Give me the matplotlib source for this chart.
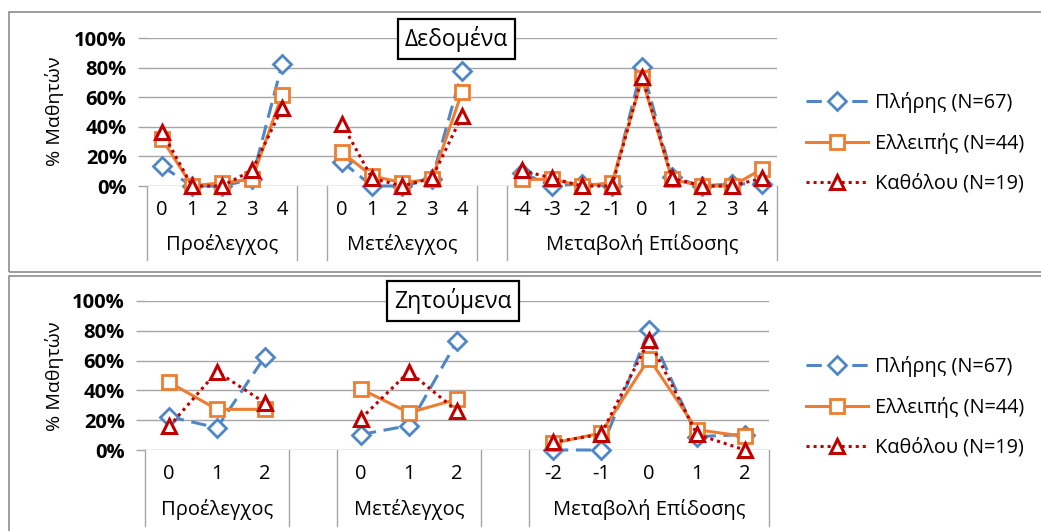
import numpy as np
import matplotlib
matplotlib.use('Agg')
import matplotlib.pyplot as plt
from matplotlib.lines import Line2D
from matplotlib.patches import Rectangle
from matplotlib.transforms import blended_transform_factory

plt.rcParams['font.family'] = ['Open Sans', 'DejaVu Sans']

W, H = 1041, 531

groups = ['Προέλεγχος', 'Μετέλεγχος', 'Μεταβολή Επίδοσης']
series_names = ['Πλήρης (N=67)', 'Ελλειπής (N=44)', 'Καθόλου (N=19)']
y_label = '% Μαθητών'
y_ticks = [0, 20, 40, 60, 80, 100]

# Top panel: Δεδομένα
top_title = 'Δεδομένα'
top_cats = [['0', '1', '2', '3', '4'],
            ['0', '1', '2', '3', '4'],
            ['-4', '-3', '-2', '-1', '0', '1', '2', '3', '4']]
top_full = [[13.4, 0, 0, 4.5, 82.1],
            [16.4, 0, 0, 4.5, 77.6],
            [9.0, 0, 1.5, 0, 80.6, 6.0, 0, 1.5, 1.5]]
top_partial = [[31.8, 0, 2.3, 4.5, 61.4],
               [22.7, 6.8, 2.3, 4.5, 63.6],
               [4.5, 4.5, 0, 2.3, 72.7, 4.5, 0, 0, 11.4]]
top_none = [[36.8, 0, 0, 10.5, 52.6],
            [42.1, 5.3, 0, 5.3, 47.4],
            [10.5, 5.3, 0, 0, 73.7, 5.3, 0, 0, 5.3]]

# Bottom panel: Ζητούμενα
bot_title = 'Ζητούμενα'
bot_cats = [['0', '1', '2'],
            ['0', '1', '2'],
            ['-2', '-1', '0', '1', '2']]
bot_full = [[22.4, 14.9, 62.7],
            [10.4, 16.4, 73.1],
            [0, 0, 80.6, 9.0, 10.4]]
bot_partial = [[45.5, 27.3, 27.3],
               [40.9, 25.0, 34.1],
               [4.5, 11.4, 61.4, 13.6, 9.1]]
bot_none = [[15.8, 52.6, 31.6],
            [21.1, 52.6, 26.3],
            [5.3, 10.5, 73.7, 10.5, 0]]

BLUE = '#4F86C6'
ORANGE = '#ED7D31'
RED = '#C00000'
GRID = '#A6A6A6'

styles = [
    dict(color=BLUE, lw=2.2, dashes=(5, 2.5), marker='D', ms=9, mfc='white', mec=BLUE, mew=2.0),
    dict(color=ORANGE, lw=2.2, linestyle='-', marker='s', ms=10, mfc='white', mec=ORANGE, mew=2.0),
    dict(color=RED, lw=2.2, linestyle=(0, (1, 1.3)), marker='^', ms=10, mfc='white', mec=RED, mew=2.2),
]

fig = plt.figure(figsize=(W / 100, H / 100), dpi=100)


def fx(px):
    return px / W


def fy(py):
    return 1 - py / H


def build(cats, values):
    xs, labels, ys = [], [], []
    pos = 0
    centers = []
    bounds = [-0.5]
    for gi, (c, v) in enumerate(zip(cats, values)):
        start = pos
        for lab, val in zip(c, v):
            xs.append(pos)
            labels.append(lab)
            ys.append(val / 100.0)
            pos += 1
        centers.append((start + pos - 1) / 2)
        bounds.append(pos - 0.5)
        if gi < len(cats) - 1:
            xs.append(pos)
            labels.append('')
            ys.append(np.nan)
            pos += 1
            bounds.append(pos - 0.5)
    return np.array(xs), labels, np.array(ys), centers, bounds, pos


def panel(box, x_left, x_right, y0, y100, cats, series, title, title_c,
          tick_y, group_y, sep_bottom, legend_y, ylab_y):
    n = sum(len(c) for c in cats) + len(cats) - 1
    ax = fig.add_axes([fx(x_left), fy(y0), fx(x_right - x_left), (y0 - y100) / H])
    ax.set_xlim(-0.5, n - 0.5)
    ax.set_ylim(0, 1)
    for s in ax.spines.values():
        s.set_visible(False)
    ax.set_xticks([])
    ax.set_yticks([t / 100 for t in y_ticks])
    ax.set_yticklabels([f'{t}%' for t in y_ticks], fontsize=14.5, fontweight='bold')
    ax.tick_params(axis='y', length=6.5, width=1, color=GRID, pad=8)
    for t in y_ticks:
        ax.axhline(t / 100, color=GRID, lw=1, zorder=0)
    ax.set_facecolor('none')

    tr = blended_transform_factory(ax.transData, fig.transFigure)
    handles = []
    for vals, st, name in zip(series, styles, series_names):
        xs, labels, ys, centers, bounds, _ = build(cats, vals)
        ln, = ax.plot(xs, ys, clip_on=False, zorder=3, label=name, **st)
        handles.append(ln)
    for x, lab in zip(xs, labels):
        if lab:
            ax.text(x, fy(tick_y), lab, transform=tr, ha='center', va='center', fontsize=14.5)
    for c, g in zip(centers, groups):
        ax.text(c, fy(group_y), g, transform=tr, ha='center', va='center', fontsize=14.5)
    for b in bounds:
        fig.add_artist(Line2D([b, b], [fy(y0), fy(sep_bottom)], transform=tr, color=GRID, lw=1))

    fig.text(fx(54), fy(ylab_y), y_label, rotation=90, ha='center', va='center', fontsize=14)
    fig.text(fx(title_c[0]), fy(title_c[1]), title, ha='center', va='center', fontsize=16.5,
             bbox=dict(boxstyle='square,pad=0.3', fc='white', ec='black', lw=1.6), zorder=10)

    fig.legend(handles=handles, loc='center left', bbox_to_anchor=(fx(806), fy(legend_y)),
               frameon=False, fontsize=14.3, handlelength=3.1, handletextpad=0.35,
               labelspacing=1.0, borderpad=0, borderaxespad=0, numpoints=1)

    x0, y0b, x1, y1b = box
    fig.add_artist(Rectangle((fx(x0), fy(y1b)), fx(x1 - x0), (y1b - y0b) / H,
                             transform=fig.transFigure, fill=False, ec='#8C8C8C', lw=1.2))
    return ax


panel((9, 12, 1070, 272), 147, 777, 186, 38, top_cats,
      [top_full, top_partial, top_none], top_title, (456, 39),
      tick_y=210, group_y=245, sep_bottom=260, legend_y=143, ylab_y=111)
panel((9, 276, 1070, 560), 145, 769, 450, 301, bot_cats,
      [bot_full, bot_partial, bot_none], bot_title, (453, 301),
      tick_y=474, group_y=509, sep_bottom=526, legend_y=407, ylab_y=376)

fig.savefig('out.png', dpi=100)
